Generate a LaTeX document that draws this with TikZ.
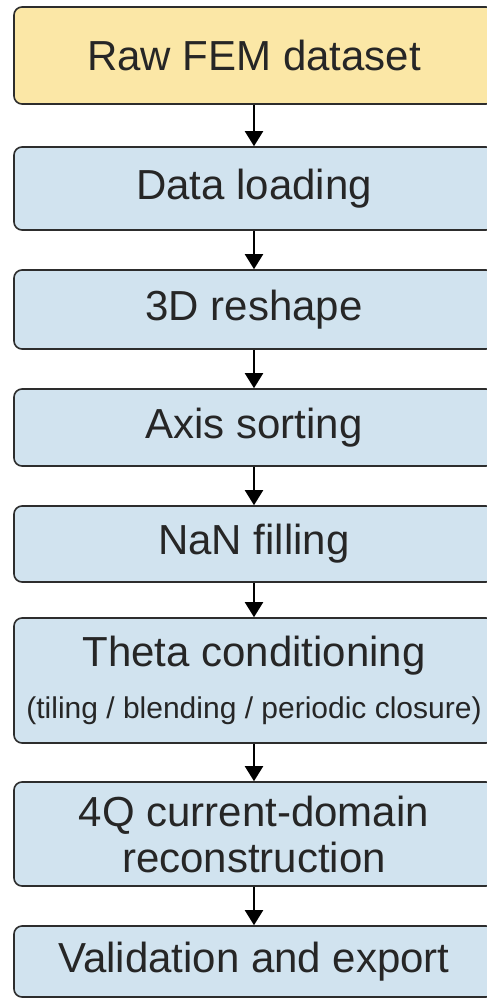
\documentclass[tikz,border=0pt]{standalone}
\usepackage{fontspec}
\setmainfont{Liberation Sans}
\usetikzlibrary{arrows.meta, positioning}
\definecolor{rawyellow}{RGB}{251,231,166}
\definecolor{stepblue}{RGB}{209,227,239}
\definecolor{edgegray}{RGB}{45,45,45}

\tikzset{
  stage/.style={draw=edgegray, line width=1.6pt, rounded corners=8pt, fill=stepblue,
    minimum width=480pt, align=center, text=black!85, inner sep=0pt,
    font=\fontsize{42}{46}\selectfont},
  flow/.style={-{Triangle[width=18pt,length=15pt]}, line width=2pt, draw=black}
}

\begin{document}
\begin{tikzpicture}[x=1pt, y=1pt]
  \fill[white] (0,0) rectangle (487,-999);
  \useasboundingbox (0,0) rectangle (487,-999);
  \node[stage, fill=rawyellow, minimum height=97pt] (raw) at (254,-55.5) {Raw FEM dataset};
  \node[stage, minimum height=83pt] (load) at (254,-188.5) {Data loading};
  \node[stage, minimum height=79pt] (reshape) at (254,-309.5) {3D reshape};
  \node[stage, minimum height=77pt] (sort) at (254,-427.5) {Axis sorting};
  \node[stage, minimum height=76pt] (fill) at (254,-544) {NaN filling};
  \node[stage, minimum height=125pt] (theta) at (254,-680.5)
    {Theta conditioning\\[6pt]{\fontsize{30}{34}\selectfont (tiling / blending / periodic closure)}};
  \node[stage, minimum height=104pt] (recon) at (254,-834) {4Q current-domain\\reconstruction};
  \node[stage, minimum height=71pt] (export) at (254,-961.5) {Validation and export};
  \foreach \a/\b in {raw/load, load/reshape, reshape/sort, sort/fill, fill/theta, theta/recon, recon/export} {
    \draw[flow] (\a) -- (\b);
  }
\end{tikzpicture}
\end{document}
